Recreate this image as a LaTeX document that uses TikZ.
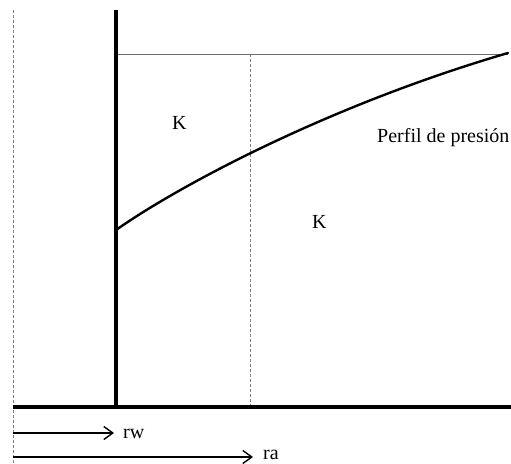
\documentclass[tikz,border=0pt]{standalone}
\usepackage{fontspec}
\setmainfont{Liberation Serif}
\usetikzlibrary{arrows.meta,calc}
\definecolor{wallblack}{HTML}{000000}
\definecolor{guidegray}{HTML}{7F7F7F}
\definecolor{topgray}{HTML}{6E6E6E}

\begin{document}
\begin{tikzpicture}[x=1pt,y=-1pt,
    wall/.style={wallblack,line width=4.5pt},
    guide/.style={guidegray,line width=1pt,dash pattern=on 3pt off 2pt},
    radius arrow/.style={black,line width=1.4pt,-{Straight Barb[length=9pt,width=13pt,line width=1.4pt]}},
    lbl/.style={font=\fontsize{20}{22}\selectfont,inner sep=0pt,anchor=base west}]
      \useasboundingbox (0,0) rectangle (511,463);
      % frame points
      \coordinate (axistop) at (13,10);
      \coordinate (axisbot) at (13,463);
      \coordinate (walltop) at (116,10);
      \coordinate (wallbot) at (116,407);
      \coordinate (groundL) at (13,407);
      \coordinate (groundR) at (511,407);
      \coordinate (pinit) at (116,54);
      \coordinate (pend) at (508,54);
      \coordinate (ratop) at (250,54);
      \coordinate (rabot) at (250,407);
      \draw[guide] (axistop) -- (axisbot);
      \draw[guide] (ratop) -- (rabot);
      \draw[topgray,line width=1pt] (pinit) -- (pend);
      \draw[wall] (groundL) -- (groundR);
      \draw[wall] (walltop) -- (wallbot);
      % pressure profile
      \coordinate (pwell) at (116,230);
      \coordinate (pout) at (508,53);
      \draw[black,line width=2.4pt,line cap=round]
        (pwell) .. controls (180,185) and (330,105) .. (pout);
      \node[lbl] (k1) at (172,129) {K};
      \node[lbl] (k2) at (312,228) {K};
      \node[lbl] (perfil) at (377,142) {Perfil de presión};
      % radii
      \coordinate (rwstart) at (13,433);
      \coordinate (rwend) at (114,433);
      \coordinate (rastart) at (13,457);
      \coordinate (raend) at (253,457);
      \node[lbl] (rw) at (123,438) {rw};
      \node[lbl] (ra) at (263,459) {ra};
      \draw[radius arrow] (rwstart) -- (rwend);
      \draw[radius arrow] (rastart) -- (raend);
    \end{tikzpicture}
\end{document}
